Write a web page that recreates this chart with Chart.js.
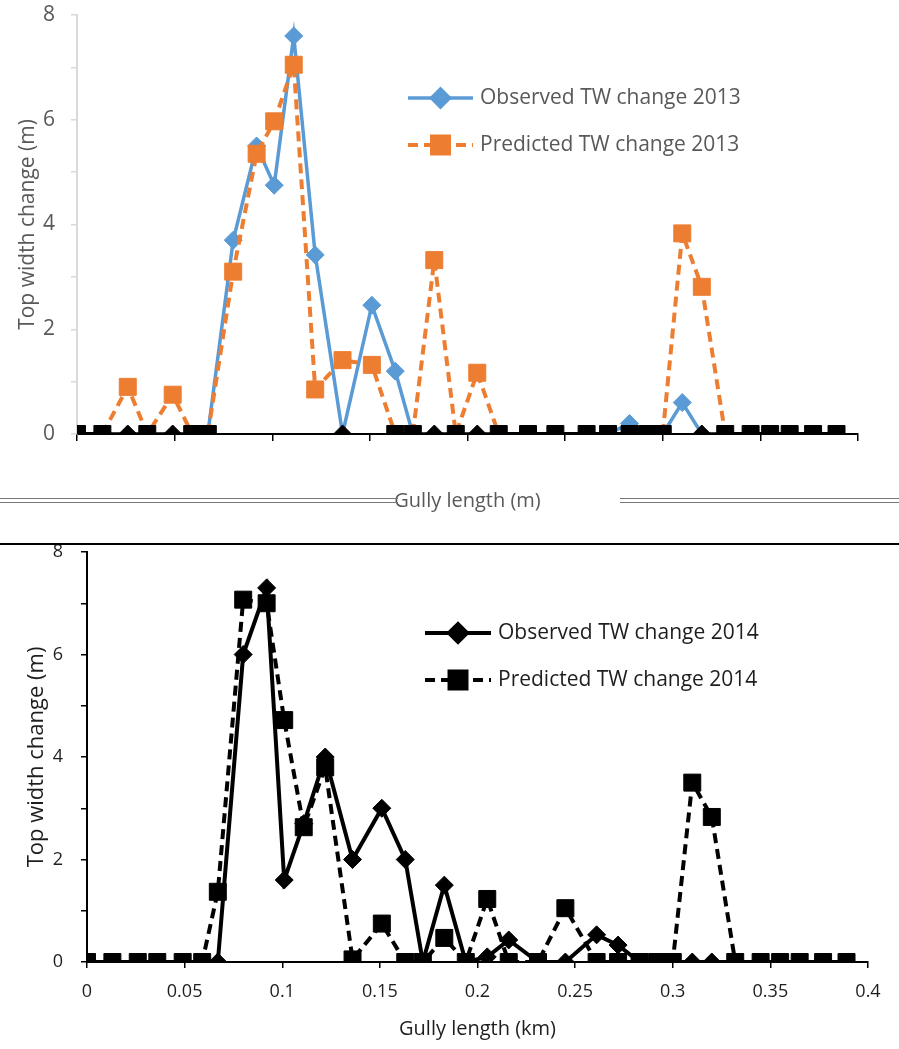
<!DOCTYPE html>
<html>
<head>
<meta charset="utf-8">
<script src="https://cdn.jsdelivr.net/npm/chart.js@4.4.1/dist/chart.umd.min.js"></script>
<style>
  html, body { margin: 0; padding: 0; background: #fff; }
  #wrap { position: relative; width: 899px; height: 1049px; overflow: hidden; }
  #box1 { position: absolute; left: 0; top: 0; width: 899px; height: 530px; }
  #box2 { position: absolute; left: 0; top: 530px; width: 899px; height: 519px; }
  .frame { position: absolute; left: 0; top: 543px; width: 899px; height: 0; border-top: 2px solid #000; }
  .dbl { position: absolute; top: 498px; height: 3px; border-top: 1px solid #777; border-bottom: 1px solid #777; }
</style>
</head>
<body>
<div id="wrap">
  <div id="box1"><canvas id="chart2013" width="899" height="530"></canvas></div>
  <div id="box2"><canvas id="chart2014" width="899" height="519"></canvas></div>
  <div class="dbl" style="left:0;width:398px"></div>
  <div class="dbl" style="left:620px;width:279px"></div>
  <div class="frame"></div>
</div>
<script>
// Gully length of each surveyed cross-section (km), shared by both years.
var gullyLength = [0, 0.013, 0.026, 0.036, 0.049, 0.059, 0.067, 0.080, 0.092, 0.101,
                   0.111, 0.122, 0.136, 0.151, 0.163, 0.172, 0.183, 0.194, 0.205, 0.216,
                   0.231, 0.245, 0.261, 0.272, 0.283, 0.292, 0.300, 0.310, 0.320, 0.332,
                   0.345, 0.355, 0.365, 0.377, 0.389];

// Top width change (m).
var observed2013 = [0, 0, 0, 0, 0, 0, 0, 3.7, 5.5, 4.75,
                    7.6, 3.42, 0, 2.46, 1.2, 0, 0, 0, 0, 0,
                    0, 0, 0, 0, 0.2, 0, 0, 0.6, 0, 0,
                    0, 0, 0, 0, 0];
var predicted2013 = [0, 0, 0.9, 0, 0.75, 0, 0, 3.1, 5.35, 5.97,
                     7.05, 0.85, 1.41, 1.32, 0, 0, 3.32, 0, 1.17, 0,
                     0, 0, 0, 0, 0, 0, 0, 3.83, 2.81, 0,
                     0, 0, 0, 0, 0];
var observed2014 = [0, 0, 0, 0, 0, 0, 0, 6.0, 7.3, 1.6,
                    2.7, 4.0, 2.0, 3.0, 2.0, 0, 1.5, 0, 0.1, 0.43,
                    0, 0, 0.53, 0.33, 0, 0, 0, 0, 0, 0,
                    0, 0, 0, 0, 0];
var predicted2014 = [0, 0, 0, 0, 0, 0, 1.37, 7.07, 7.0, 4.72,
                     2.63, 3.8, 0.05, 0.75, 0, 0, 0.47, 0, 1.23, 0,
                     0, 1.05, 0, 0, 0, 0, 0, 3.5, 2.83, 0,
                     0, 0, 0, 0, 0];

var yTicks = [0, 2, 4, 6, 8];
var FONT = '"Open Sans", "Noto Sans", sans-serif';

function points(values) {
    return values.map(function(v, i) { return {x: gullyLength[i], y: v}; });
}

// Legend drawn beside the curves: line, marker in the middle, then the label.
var lineLegend = {
    id: 'lineLegend',
    afterDraw: function(chart, args, opts) {
        var ctx = chart.ctx;
        chart.data.datasets.forEach(function(ds, i) {
            var y = opts.y + i * opts.gap;
            ctx.save();
            ctx.strokeStyle = ds.legendColor;
            ctx.lineWidth = ds.borderWidth;
            ctx.setLineDash(ds.borderDash || []);
            ctx.beginPath();
            ctx.moveTo(opts.x, y);
            ctx.lineTo(opts.x + opts.len, y);
            ctx.stroke();
            ctx.setLineDash([]);
            ctx.fillStyle = ds.legendColor;
            ctx.strokeStyle = ds.legendColor;
            Chart.helpers.drawPoint(ctx, {
                pointStyle: ds.pointStyle, radius: ds.pointRadius, borderWidth: 1, rotation: 0
            }, opts.x + opts.len / 2, y);
            ctx.font = opts.fontSize + 'px ' + FONT;
            ctx.fillStyle = opts.color;
            ctx.textBaseline = 'middle';
            ctx.textAlign = 'left';
            ctx.fillText(ds.label, opts.x + opts.len + 7, y);
            ctx.restore();
        });
    }
};

function evenLabel(v) {
    return yTicks.indexOf(v) >= 0 ? String(v) : '';
}

function atZero(c) {
    return c.p0.parsed.y === 0 && c.p1.parsed.y === 0;
}

// fixed axis sizes, and no extra room for end labels
function fixWidth(w) {
    return function(s) { s.width = w; s.paddingTop = 0; s.paddingBottom = 0; };
}
function fixHeight(h) {
    return function(s) { s.height = h; s.paddingLeft = 0; s.paddingRight = 0; };
}

// ---- 2013 ----
var blue = '#5b9bd5';
var orange = '#ed7d31';
var grey = '#595959';

new Chart(document.getElementById('chart2013'), {
    type: 'line',
    data: {
        datasets: [{
            label: 'Observed TW change 2013',
            data: points(observed2013),
            legendColor: blue,
            borderColor: blue,
            borderWidth: 3.5,
            pointStyle: 'rectRot',
            pointRadius: 9,
            pointBorderWidth: 1,
            pointBackgroundColor: observed2013.map(function(v) { return v === 0 ? '#000' : blue; }),
            pointBorderColor: observed2013.map(function(v) { return v === 0 ? '#000' : blue; }),
            segment: { borderColor: function(c) { return atZero(c) ? '#000' : undefined; } },
            order: 1
        }, {
            label: 'Predicted TW change 2013',
            data: points(predicted2013),
            legendColor: orange,
            borderColor: orange,
            borderWidth: 4,
            borderDash: [10, 6],
            pointStyle: 'rect',
            pointRadius: 12,
            pointBorderWidth: 1,
            pointBackgroundColor: predicted2013.map(function(v) { return v === 0 ? '#000' : orange; }),
            pointBorderColor: predicted2013.map(function(v) { return v === 0 ? '#000' : orange; }),
            segment: {
                borderColor: function(c) { return atZero(c) ? '#000' : undefined; },
                borderDash: function(c) { return atZero(c) ? [] : undefined; }
            },
            order: 0
        }]
    },
    options: {
        responsive: false,
        animation: false,
        devicePixelRatio: 1,
        layout: { autoPadding: false, padding: { left: 0, right: 41, top: 15, bottom: 0 } },
        plugins: {
            legend: { display: false },
            tooltip: { enabled: false },
            lineLegend: { x: 408, y: 98, gap: 47, len: 65, fontSize: 21, color: grey }
        },
        scales: {
            x: {
                type: 'linear',
                min: 0,
                max: 0.4,
                afterFit: fixHeight(96),
                ticks: { stepSize: 0.05, callback: function() { return ''; } },
                grid: { drawOnChartArea: false, tickLength: 7, color: '#000', lineWidth: 1.5 },
                border: { color: '#000', width: 2 },
                title: {
                    display: true, text: 'Gully length (m)', color: grey,
                    font: { family: FONT, size: 20 }, padding: { top: 0, bottom: 17 }
                }
            },
            y: {
                min: 0,
                max: 8,
                afterFit: fixWidth(77),
                ticks: {
                    stepSize: 1, callback: evenLabel, color: grey, padding: 16,
                    font: { family: FONT, size: 21 }
                },
                grid: { drawOnChartArea: false, tickLength: 6, color: '#d9d9d9', lineWidth: 1.5 },
                border: { color: '#d9d9d9', width: 2 },
                title: {
                    display: true, text: 'Top width change (m)', color: grey,
                    font: { family: FONT, size: 21 }, padding: { top: 15, bottom: 0 }
                }
            }
        }
    },
    plugins: [lineLegend]
});

// ---- 2014 ----
var ink = '#000';
var txt = '#1e1e1e';

new Chart(document.getElementById('chart2014'), {
    type: 'line',
    data: {
        datasets: [{
            label: 'Observed TW change 2014',
            data: points(observed2014),
            legendColor: ink,
            borderColor: ink,
            borderWidth: 4,
            pointStyle: 'rectRot',
            pointRadius: 9,
            pointBorderWidth: 1,
            pointBackgroundColor: ink,
            pointBorderColor: ink,
            order: 1
        }, {
            label: 'Predicted TW change 2014',
            data: points(predicted2014),
            legendColor: ink,
            borderColor: ink,
            borderWidth: 4,
            borderDash: [10, 6],
            pointStyle: 'rect',
            pointRadius: 12,
            pointBorderWidth: 1,
            pointBackgroundColor: ink,
            pointBorderColor: ink,
            order: 0
        }]
    },
    options: {
        responsive: false,
        animation: false,
        devicePixelRatio: 1,
        layout: { autoPadding: false, padding: { left: 0, right: 31, top: 22, bottom: 0 } },
        plugins: {
            legend: { display: false },
            tooltip: { enabled: false },
            lineLegend: { x: 425, y: 103, gap: 47, len: 66, fontSize: 21, color: txt }
        },
        scales: {
            x: {
                type: 'linear',
                min: 0,
                max: 0.4,
                afterFit: fixHeight(87),
                ticks: {
                    stepSize: 0.05, color: txt, padding: 13,
                    font: { family: FONT, size: 18 },
                    callback: function(v) { return String(Math.round(v * 100) / 100); }
                },
                grid: { drawOnChartArea: false, tickLength: 6, color: '#000', lineWidth: 1.5 },
                border: { color: '#000', width: 2 },
                title: {
                    display: true, text: 'Gully length (km)', color: txt,
                    font: { family: FONT, size: 20 }, padding: { top: 0, bottom: 8 }
                }
            },
            y: {
                min: 0,
                max: 8,
                afterFit: fixWidth(87),
                ticks: {
                    stepSize: 1, callback: evenLabel, color: txt, padding: 18,
                    font: { family: FONT, size: 18 }
                },
                grid: { drawOnChartArea: false, tickLength: 6, color: '#000', lineWidth: 1.5 },
                border: { color: '#000', width: 2 },
                title: {
                    display: true, text: 'Top width change (m)', color: txt,
                    font: { family: FONT, size: 22 }, padding: { top: 24, bottom: 0 }
                }
            }
        }
    },
    plugins: [lineLegend]
});
</script>
</body>
</html>
